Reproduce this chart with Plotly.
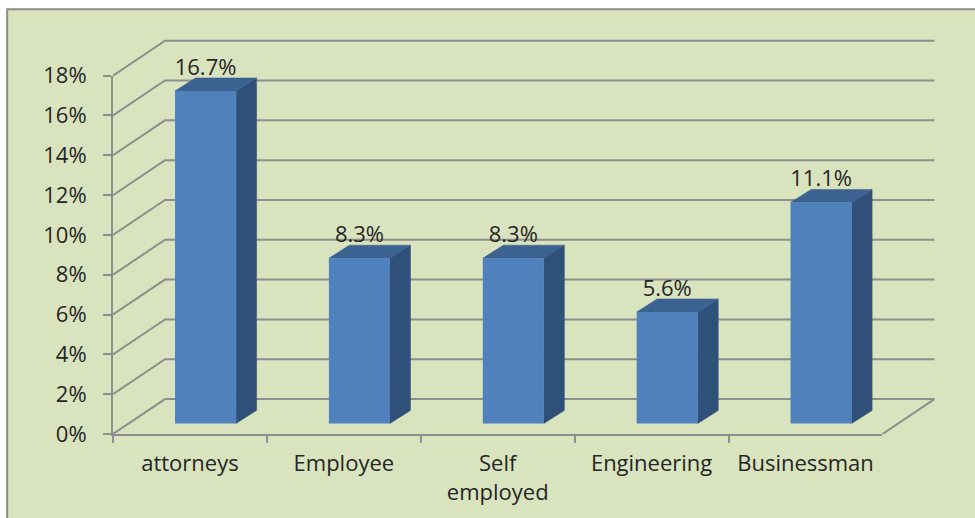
import plotly.graph_objects as go

categories = ["attorneys", "Employee", "Self<br>employed", "Engineering", "Businessman"]
values = [16.7, 8.3, 8.3, 5.6, 11.1]
y_ticks = [0, 2, 4, 6, 8, 10, 12, 14, 16, 18]
y_tick_labels = ["0%", "2%", "4%", "6%", "8%", "10%", "12%", "14%", "16%", "18%"]

# Oblique projection of the 3D box, in axis units (x: categories, y: percent)
WALL_DX, WALL_DY = 0.338, 1.755
BAR_LEFT, BAR_WIDTH = -0.097, 0.397
BAR_BASE = 0.53
DEPTH_DX, DEPTH_DY = 0.133, 0.655
LABEL_DROP = 0.12

# The hidden axes run slightly past the walls so their outer lines keep full width
X_MAX = 4.5 + WALL_DX + 0.01
Y_MAX = 19.89

GRID = "#8e8e8e"
TEXT = "#262626"
FONT = "Open Sans"
FONT_SIZE = 22

fig = go.Figure()

# Left wall, back wall and floor edge
wall_x, wall_y = [], []
for t in y_ticks:
    wall_x += [-0.5, -0.5 + WALL_DX, 4.5 + WALL_DX, None]
    wall_y += [t, t + WALL_DY, t + WALL_DY, None]
wall_x += [4.5, 4.5 + WALL_DX]
wall_y += [0, WALL_DY]
fig.add_trace(go.Scatter(x=wall_x, y=wall_y, mode="lines", cliponaxis=False,
                         line=dict(color=GRID, width=2), hoverinfo="skip", showlegend=False))

# Side and top faces of each column
for i, v in enumerate(values):
    x0 = i + BAR_LEFT
    x1 = x0 + BAR_WIDTH
    top = BAR_BASE + v
    fig.add_trace(go.Scatter(
        x=[x1, x1 + DEPTH_DX, x1 + DEPTH_DX, x1, x1],
        y=[BAR_BASE, BAR_BASE + DEPTH_DY, top + DEPTH_DY, top, BAR_BASE],
        mode="lines", fill="toself", fillcolor="#2f5179",
        line=dict(color="#2f5179", width=0.5), hoverinfo="skip", showlegend=False))
    fig.add_trace(go.Scatter(
        x=[x0, x1, x1 + DEPTH_DX, x0 + DEPTH_DX, x0],
        y=[top, top, top + DEPTH_DY, top + DEPTH_DY, top],
        mode="lines", fill="toself", fillcolor="#3b6291",
        line=dict(color="#3b6291", width=0.5), hoverinfo="skip", showlegend=False))

# Value labels sit just above the back edge of each column
fig.add_trace(go.Scatter(
    x=[i + BAR_LEFT + BAR_WIDTH / 2 for i in range(len(values))],
    y=[v + BAR_BASE + DEPTH_DY - LABEL_DROP for v in values],
    mode="text", text=[f"{v}%" for v in values], textposition="top center",
    textfont=dict(family=FONT, size=FONT_SIZE, color=TEXT),
    cliponaxis=False, hoverinfo="skip", showlegend=False))

# Front faces on the visible category axis, which covers only the front plane
fig.add_trace(go.Bar(x=categories, y=values, base=BAR_BASE, offset=BAR_LEFT, width=BAR_WIDTH,
                     xaxis="x2", yaxis="y2", marker=dict(color="#4f81bd", line=dict(width=0)),
                     hoverinfo="skip", showlegend=False))

fig.update_layout(
    width=975, height=518, autosize=False,
    margin=dict(l=113, r=39, t=38, b=81),
    paper_bgcolor="white", plot_bgcolor="rgba(0,0,0,0)",
    shapes=[dict(type="rect", xref="paper", yref="paper", layer="below",
                 x0=-0.1286, x1=1.2, y0=-0.25, y1=1.0727,
                 fillcolor="#d9e3be", line=dict(color="#8c8c8c", width=2))],
    xaxis=dict(range=[-0.5, X_MAX], visible=False, fixedrange=True),
    yaxis=dict(range=[0, Y_MAX], visible=False, fixedrange=True),
    xaxis2=dict(type="category", categoryorder="array", categoryarray=categories,
                range=[-0.5, 4.5], domain=[0, 5 / (X_MAX + 0.5)],
                anchor="y2", side="bottom",
                tickmode="array", tickvals=categories, ticktext=categories, tickson="boundaries",
                ticks="outside", ticklen=7, tickwidth=2, tickcolor=GRID,
                showline=True, linewidth=2, linecolor=GRID, showgrid=False,
                ticklabelstandoff=9, tickangle=0,
                tickfont=dict(family=FONT, size=FONT_SIZE, color=TEXT), fixedrange=True),
    yaxis2=dict(range=[0, 18], domain=[0, 18 / Y_MAX], anchor="x2",
                tickmode="array", tickvals=y_ticks, ticktext=y_tick_labels,
                ticks="outside", ticklen=8, tickwidth=2, tickcolor=GRID,
                showline=True, linewidth=2, linecolor=GRID, showgrid=False, zeroline=False,
                ticklabelstandoff=12,
                tickfont=dict(family=FONT, size=FONT_SIZE, color=TEXT), fixedrange=True),
)

fig.write_html("out.html", config=dict(displayModeBar=False))
